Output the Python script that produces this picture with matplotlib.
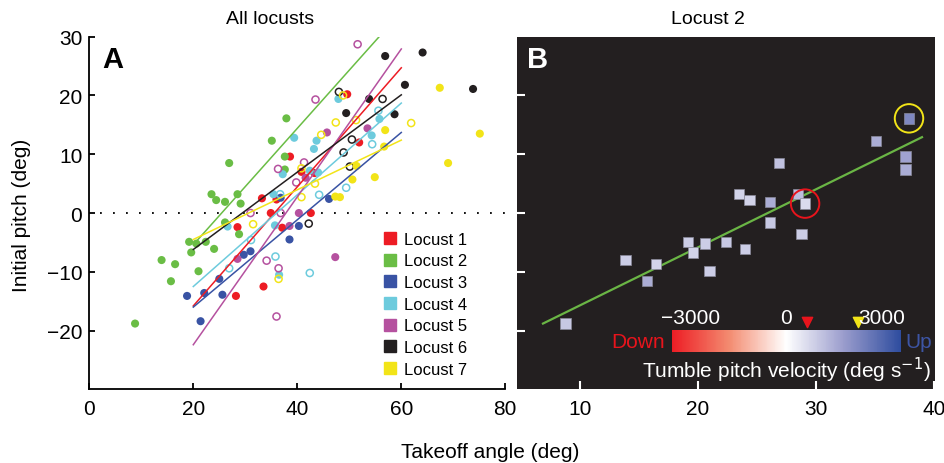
import numpy as np
import matplotlib
matplotlib.use("Agg")
import matplotlib.pyplot as plt
from matplotlib.colors import LinearSegmentedColormap
from matplotlib.lines import Line2D

plt.rcParams['font.family'] = ['Liberation Sans', 'DejaVu Sans']
plt.rcParams['font.size'] = 15

# Данни: ъгъл на излитане (deg) и начален наклон (deg) за всеки скакалец
# hollow = 1 -> празен кръг, 0 -> запълнен
loc1_x = [38.6, 33.2, 36.0, 49.6, 51.9, 42.6, 34.9, 28.5, 37.1, 33.5, 28.2, 40.8, 43.3]
loc1_y = [9.6, 2.5, 2.3, 20.2, 12.0, 0.0, 0.0, -2.4, -2.5, -12.5, -14.1, 7.0, 6.8]
loc1_hollow = [0] * 13

loc2_x = [37.9, 35.1, 37.6, 37.6, 26.9, 23.5, 24.4, 26.1, 28.5, 29.1, 26.1, 28.8,
          19.2, 20.6, 22.4, 19.6, 24.0, 13.9, 16.5, 15.7, 21.0, 8.8]
loc2_y = [16.1, 12.3, 9.6, 7.4, 8.5, 3.2, 2.2, 1.9, 3.2, 1.6, -1.6, -3.6,
          -4.9, -5.2, -4.9, -6.7, -6.1, -8.0, -8.7, -11.6, -9.9, -18.8]
loc2_hollow = [0] * 22
# Скорост на преобръщане (deg/s) за Locust 2 (панел B)
loc2_tumble = [2254, 1500, 1700, 1500, 1100, 800, 800, 1500, 1200, 660, 1000, 900,
               900, 900, 1000, 800, 900, 900, 800, 1500, 900, 1000]

loc3_x = [18.8, 21.4, 22.1, 25.6, 25.0, 29.7, 31.0, 38.5, 40.3, 46.1, 36.8]
loc3_y = [-14.1, -18.4, -13.6, -13.9, -11.2, -7.1, -6.5, -4.5, -2.2, 2.4, 2.6]
loc3_hollow = [0] * 11

loc4_x = [47.9, 55.8, 54.3, 39.4, 43.7, 43.2, 37.2, 42.4, 44.0, 35.4, 26.6, 35.7, 36.5,
          55.6, 54.4, 49.4, 44.2, 36.7, 31.1, 26.9, 35.8, 42.4]
loc4_y = [19.4, 16.0, 13.2, 12.8, 12.3, 10.9, 6.6, 7.2, 6.9, 3.2, -2.3, -2.1, -10.5,
          17.4, 11.7, 4.3, 3.1, 3.2, -4.6, -9.4, -7.4, -10.2]
loc4_hollow = [0] * 13 + [1] * 9

loc5_x = [45.7, 53.5, 41.6, 40.3, 38.5, 47.3, 28.5,
          51.6, 43.5, 36.3, 41.3, 39.8, 31.0, 36.8, 34.1, 36.4, 36.0]
loc5_y = [13.7, 14.4, 6.0, 0.0, -2.2, -7.5, -7.8,
          28.7, 19.3, 7.5, 8.6, 5.2, 0.0, 0.0, -8.1, -9.4, -17.6]
loc5_hollow = [0] * 7 + [1] * 10

loc6_x = [56.9, 64.1, 73.8, 60.7, 53.8, 49.4, 58.7, 48.0, 56.4, 50.5, 48.9, 50.1, 42.2]
loc6_y = [26.7, 27.3, 21.1, 21.8, 19.4, 17.0, 16.8, 20.6, 19.4, 12.5, 10.3, 7.9, -1.8]
loc6_hollow = [0] * 7 + [1] * 6

loc7_x = [67.4, 75.1, 69.0, 56.9, 56.7, 50.6, 54.9, 47.3, 48.2, 51.4,
          61.9, 48.8, 47.4, 51.3, 44.6, 40.8, 43.4, 40.8, 31.5, 36.4]
loc7_y = [21.3, 13.5, 8.5, 14.1, 11.3, 5.7, 6.1, 2.8, 2.7, 8.0,
          15.3, 20.0, 15.4, 15.8, 13.3, 7.6, 5.0, 2.7, -1.9, -11.2]
loc7_hollow = [0] * 10 + [1] * 10

labels = ["Locust 1", "Locust 2", "Locust 3", "Locust 4", "Locust 5", "Locust 6", "Locust 7"]
colors = ["#ed1c24", "#6abd45", "#3953a4", "#6dcbdd", "#b5519f", "#231f20", "#f2e418"]

# Регресионни линии: стойност при 20 и при 60 deg
fit_x = [20, 60]
fit_y20 = [-15.8, -5.4, -16.0, -12.5, -22.4, -6.2, -4.5]
fit_y60 = [24.7, 34.2, 13.7, 18.7, 27.9, 20.1, 12.4]

# Линия за Locust 2 в панел B
fitb_x = [6.9, 39.0]
fitb_y = [-18.8, 12.9]

# Скала на цветовете
cbar_ticks = [-3000, 0, 3000]
red_marker = 660
yellow_marker = 2254

all_x = [loc1_x, loc2_x, loc3_x, loc4_x, loc5_x, loc6_x, loc7_x]
all_y = [loc1_y, loc2_y, loc3_y, loc4_y, loc5_y, loc6_y, loc7_y]
all_hollow = [loc1_hollow, loc2_hollow, loc3_hollow, loc4_hollow, loc5_hollow, loc6_hollow, loc7_hollow]

fig = plt.figure(figsize=(9.45, 4.64), dpi=100)

# ---------------- Панел A ----------------
ax_a = fig.add_axes([0.0945, 0.1586, 0.4402, 0.7603])
ax_a.axhline(0, xmin=0.025, xmax=1, color="black", lw=1.3, ls=(0, (1, 6.2)), zorder=1)

for xs, ys, hol, col in zip(all_x, all_y, all_hollow, colors):
    xs, ys, hol = np.array(xs), np.array(ys), np.array(hol, dtype=bool)
    ax_a.scatter(xs[~hol], ys[~hol], s=34, color=col, edgecolors="none", zorder=2)
    ax_a.scatter(xs[hol], ys[hol], s=26, facecolors="none", edgecolors=col, linewidths=1.1, zorder=2)

for y0, y1, col in zip(fit_y20, fit_y60, colors):
    ax_a.plot(fit_x, [y0, y1], color=col, lw=1.1, zorder=3)

ax_a.set_xlim(0, 80)
ax_a.set_ylim(-30, 30)
ax_a.set_xticks([0, 20, 40, 60, 80])
ax_a.set_yticks([-20, -10, 0, 10, 20, 30])
ax_a.spines["top"].set_visible(False)
ax_a.spines["right"].set_visible(False)
for sp in ["left", "bottom"]:
    ax_a.spines[sp].set_linewidth(1.3)
ax_a.tick_params(direction="in", length=4, width=1.3, pad=7)
ax_a.tick_params(axis="y", pad=5)

handles = [Line2D([], [], marker="s", ls="", color=c, markersize=9) for c in colors]
ax_a.legend(handles, labels, loc="upper left", bbox_to_anchor=(0.708, 0.447), frameon=False,
            fontsize=12, handlelength=0.8, handletextpad=0.4, labelspacing=0.40,
            borderaxespad=0, borderpad=0)

ax_a.text(0.03, 0.975, "A", transform=ax_a.transAxes, fontsize=21, fontweight="bold",
          ha="left", va="top")

# ---------------- Панел B ----------------
cmap = LinearSegmentedColormap.from_list(
    "tumble", [(0, "#ed1c24"), (0.25, "#f38b70"), (0.5, "#ffffff"), (0.75, "#9b9dcd"), (1, "#2f4d9f")])
vmax = 3600

ax_b = fig.add_axes([0.5471, 0.1586, 0.4423, 0.7603])
ax_b.set_facecolor("#231f20")
ax_b.plot(fitb_x, fitb_y, color="#6ab545", lw=1.6, zorder=2)
ax_b.scatter(loc2_x, loc2_y, c=loc2_tumble, cmap=cmap, vmin=-vmax, vmax=vmax, marker="s",
             s=55, edgecolors="#8a8a9a", linewidths=0.5, zorder=3)

# Кръгове около избраните скокове
ax_b.scatter([loc2_x[0]], [loc2_y[0]], s=420, facecolors="none", edgecolors="#f2e418",
             linewidths=1.4, zorder=4)
ax_b.scatter([loc2_x[9]], [loc2_y[9]], s=420, facecolors="none", edgecolors="#e8141c",
             linewidths=1.4, zorder=4)

ax_b.set_xlim(4.7, 40.1)
ax_b.set_ylim(-30, 30)
ax_b.set_xticks([10, 20, 30, 40])
ax_b.set_yticks([-20, -10, 0, 10, 20])
ax_b.set_yticklabels([])
for sp in ax_b.spines.values():
    sp.set_visible(False)
ax_b.tick_params(direction="in", length=6, width=1.5, color="white", pad=7)
ax_b.tick_params(axis="x", labelcolor="black")

ax_b.text(0.025, 0.975, "B", transform=ax_b.transAxes, fontsize=21, fontweight="bold",
          color="white", ha="left", va="top")

# Цветова скала
cax = fig.add_axes([0.7108, 0.2386, 0.2423, 0.048])
sm = plt.cm.ScalarMappable(cmap=cmap, norm=plt.Normalize(-vmax, vmax))
cb = fig.colorbar(sm, cax=cax, orientation="horizontal", ticks=cbar_ticks)
cb.outline.set_visible(False)
cax.xaxis.set_ticks_position("top")
cax.xaxis.set_label_position("bottom")
cax.tick_params(length=0, pad=2, labelcolor="white", labelsize=15)
cb.set_label("Tumble pitch velocity (deg s$^{-1}$)", color="white", fontsize=15, labelpad=2)
cax.scatter([red_marker], [1.36], marker="v", s=55, color="#e8141c", clip_on=False)
cax.scatter([yellow_marker], [1.36], marker="v", s=55, color="#f2e418", clip_on=False)
cax.text(-0.03, 0.5, "Down", transform=cax.transAxes, color="#e8141c", fontsize=15,
         ha="right", va="center")
cax.text(1.02, 0.5, "Up", transform=cax.transAxes, color="#3d55a5", fontsize=15,
         ha="left", va="center")

# Заглавия и етикети на осите
fig.text(270 / 945, 1 - 20 / 464, "All locusts", ha="center", va="center", fontsize=14)
fig.text(708 / 945, 1 - 20 / 464, "Locust 2", ha="center", va="center", fontsize=14)
fig.text(490 / 945, 1 - 453 / 464, "Takeoff angle (deg)", ha="center", va="center", fontsize=15)
fig.text(22 / 945, 1 - 215 / 464, "Initial pitch (deg)", ha="center", va="center",
         rotation=90, fontsize=15)

fig.savefig("out.png", dpi=100)
